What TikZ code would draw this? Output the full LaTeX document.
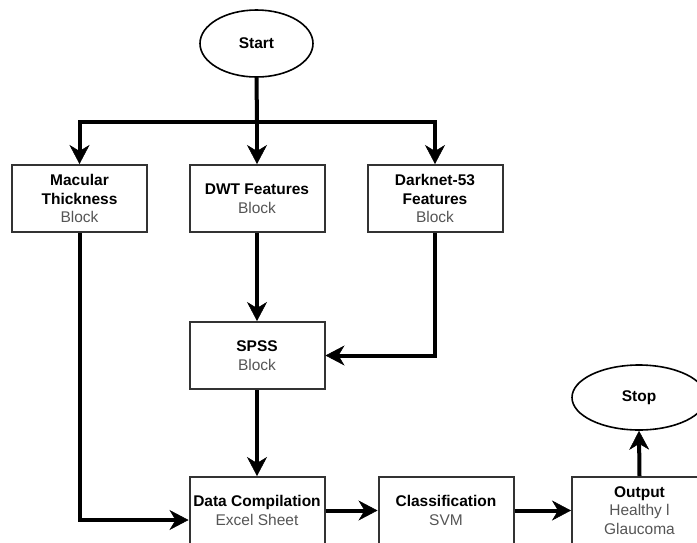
\documentclass[tikz,border=0pt]{standalone}
\usepackage{fontspec}
\setmainfont{Liberation Sans}
\usetikzlibrary{arrows.meta,shapes.geometric,calc}
\definecolor{txtgray}{HTML}{555555}
\definecolor{boxline}{HTML}{333333}
\begin{document}
\begin{tikzpicture}[x=1pt,y=-1pt,
  box/.style={draw=boxline,line width=2pt,fill=white,rectangle,minimum width=135pt,minimum height=67pt,inner sep=0pt,align=center,font=\fontsize{15.5}{18.5}\selectfont},
  term/.style={draw=black,line width=1.6pt,fill=white,ellipse,inner sep=0pt,align=center,font=\fontsize{15.5}{18.5}\selectfont\bfseries},
  conn/.style={line width=4pt,black},
  arr/.style={conn,-{Stealth[length=19pt,width=20pt,inset=6pt,line width=0.5pt]}}]
\useasboundingbox (0,0) rectangle (697,542);
\clip (0,0) rectangle (697,542);
\fill[white] (0,0) rectangle (697,542);

\node[term,minimum width=113pt,minimum height=67pt] (start) at (256.5,43.5) {Start};
\node[box] (mac) at (79.5,198.5) {\textbf{Macular}\\\textbf{Thickness}\\{\color{txtgray}Block}};
\node[box] (dwt) at (257,198.5) {\textbf{DWT Features}\\{\color{txtgray}Block}};
\node[box] (dark) at (435,198.5) {\textbf{Darknet-53}\\\textbf{Features}\\{\color{txtgray}Block}};
\node[box] (spss) at (257,355.5) {\textbf{SPSS}\\{\color{txtgray}Block}};
\node[box] (data) at (257,510.5) {\textbf{Data Compilation}\\{\color{txtgray}Excel Sheet}};
\node[box] (cls) at (446,510.5) {\textbf{Classification}\\{\color{txtgray}SVM}};
\node[box] (out) at (639.5,510.5) {\textbf{Output}\\{\color{txtgray}Healthy l}\\{\color{txtgray}Glaucoma}};
\node[term,minimum width=134pt,minimum height=65pt] (stop) at (639,397.5) {Stop};

\coordinate (bus) at (257,122);
\draw[conn] (start.south) -- (bus);
\draw[arr] (bus) -| (mac.north);
\draw[arr] (bus) -- (dwt.north);
\draw[arr] (bus) -| (dark.north);
\draw[arr] (dwt.south) -- (spss.north);
\draw[arr] (dark.south) |- (spss.east);
\draw[arr] (spss.south) -- (data.north);
\draw[arr] (mac.south) |- ([yshift=-9.5pt]data.west);
\draw[arr] (data.east) -- (cls.west);
\draw[arr] (cls.east) -- (out.west);
\draw[arr] (out.north) -- (stop.south);
\end{tikzpicture}
\end{document}
